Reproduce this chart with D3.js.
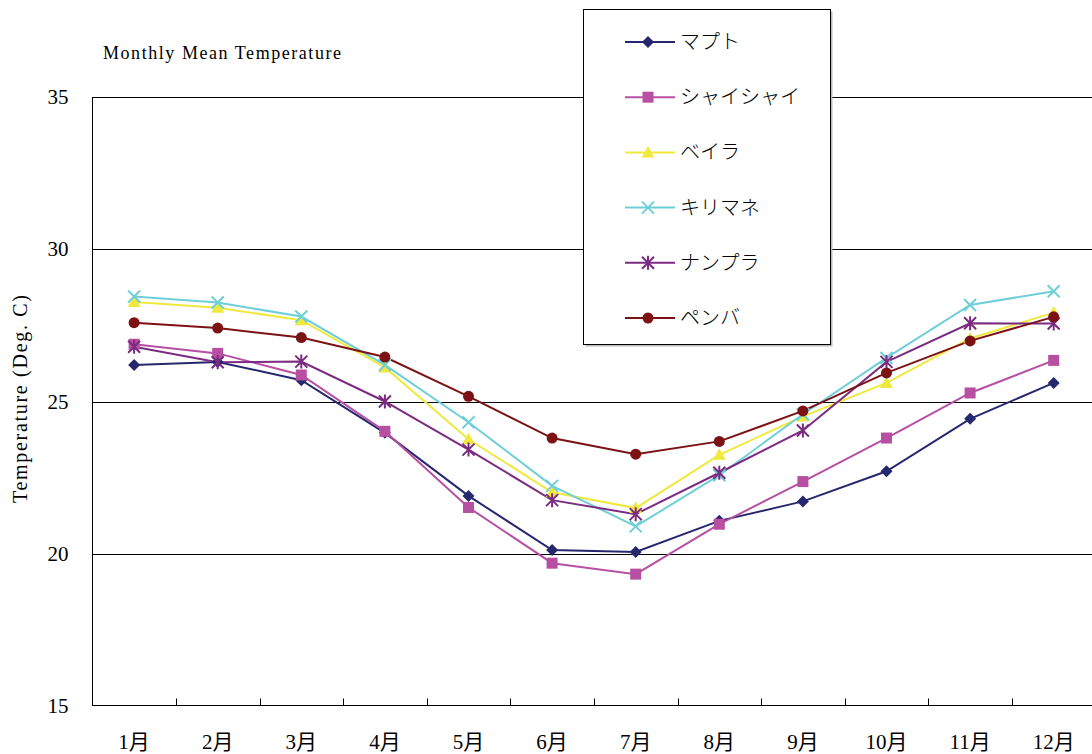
<!DOCTYPE html>
<html>
<head>
<meta charset="utf-8">
<script src="https://cdn.jsdelivr.net/npm/d3@7"></script>
<style>
  html, body { margin: 0; padding: 0; background: #fff; }
  svg { display: block; }
</style>
</head>
<body>
<svg id="chart" width="1092" height="754"></svg>
<script>
// Month labels on the category axis
const months = ["1月","2月","3月","4月","5月","6月","7月","8月","9月","10月","11月","12月"];

// Station names (legend order)
const stations = ["マプト","シャイシャイ","ベイラ","キリマネ","ナンプラ","ペンバ"];

// Monthly mean temperature (°C) per station
const maputo   = [26.2, 26.3, 25.7, 23.97, 21.9, 20.12, 20.06, 21.08, 21.72, 22.71, 24.43, 25.61];
const xaixai   = [26.88, 26.58, 25.87, 24.02, 21.52, 19.69, 19.33, 20.97, 22.37, 23.8, 25.28, 26.35];
const beira    = [28.27, 28.08, 27.67, 26.12, 23.76, 22.02, 21.5, 23.25, 24.51, 25.61, 27.07, 27.92];
const quelimane= [28.45, 28.25, 27.79, 26.2, 24.32, 22.23, 20.9, 22.58, 24.58, 26.43, 28.17, 28.62];
const nampula  = [26.8, 26.29, 26.31, 25.0, 23.42, 21.76, 21.3, 22.66, 24.05, 26.3, 27.57, 27.56];
const pemba    = [27.59, 27.41, 27.1, 26.46, 25.17, 23.8, 23.27, 23.69, 24.69, 25.94, 26.99, 27.78];

// Y-axis ticks
const yTicks = [15, 20, 25, 30, 35];

const seriesValues = [maputo, xaixai, beira, quelimane, nampula, pemba];
const colors  = ["#25276f", "#b74fa3", "#efe93d", "#6fcfd8", "#7b2b80", "#7c1214"];
const markers = ["diamond", "square", "triangle", "cross", "asterisk", "circle"];

const series = stations.map((name, i) => ({
  name, color: colors[i], marker: markers[i],
  values: seriesValues[i].map((v, j) => ({ month: months[j], value: v }))
}));

const svg = d3.select("#chart");
const serif = "'Liberation Serif','Times New Roman','Noto Sans CJK JP',serif";
const jp = "'Noto Sans CJK JP','Liberation Serif',serif";

const plot = { left: 92.3, right: 1095.5, top: 97, bottom: 706 };

const x = d3.scaleBand().domain(months).range([plot.left, plot.right]).padding(0);
const y = d3.scaleLinear().domain([15, 35]).range([plot.bottom, plot.top]);

// marker path generator centred at 0,0
function markerPath(type) {
  switch (type) {
    case "diamond":  return "M0,-6L6,0L0,6L-6,0Z";
    case "square":   return "M-5.5,-5.5H5.5V5.5H-5.5Z";
    case "triangle": return "M0,-6.5L6.5,5L-6.5,5Z";
    case "cross":    return "M-6,-6L6,6M6,-6L-6,6";
    case "asterisk": return "M-6,-6L6,6M6,-6L-6,6M0,-7V7";
    case "circle":   return d3.symbol(d3.symbolCircle, 95)();
  }
}
function isStroke(type) { return type === "cross" || type === "asterisk"; }

// horizontal gridlines
svg.append("g")
  .selectAll("line")
  .data(yTicks.filter(t => t !== 15))
  .join("line")
  .attr("x1", plot.left).attr("x2", 1092)
  .attr("y1", d => Math.round(y(d)) + 0.5).attr("y2", d => Math.round(y(d)) + 0.5)
  .attr("stroke", "#000").attr("stroke-width", 1);

// y axis
const yAxis = svg.append("g")
  .attr("transform", `translate(${Math.round(plot.left) + 0.5},0)`)
  .call(d3.axisLeft(y).tickValues(yTicks).tickSize(0).tickPadding(24));
yAxis.select(".domain").attr("stroke", "#000").attr("d", `M0,${plot.top}V${plot.bottom}`);
yAxis.selectAll("text").attr("font-family", serif).attr("font-size", 21).attr("fill", "#000");

// x axis with inward tick marks between months
const xAxisG = svg.append("g").attr("transform", `translate(0,${Math.round(plot.bottom) - 0.5})`);
xAxisG.append("line")
  .attr("x1", plot.left).attr("x2", 1092).attr("y1", 0).attr("y2", 0)
  .attr("stroke", "#000");
xAxisG.selectAll("line.tick")
  .data(months.slice(1))
  .join("line")
  .attr("class", "tick")
  .attr("x1", d => Math.round(x(d)) + 0.5).attr("x2", d => Math.round(x(d)) + 0.5)
  .attr("y1", 0).attr("y2", -7)
  .attr("stroke", "#000");
xAxisG.selectAll("text")
  .data(months)
  .join("text")
  .attr("x", d => x(d) + x.bandwidth() / 2)
  .attr("y", 43)
  .attr("text-anchor", "middle")
  .attr("font-family", serif).attr("font-size", 21)
  .text(d => d);

// series lines and markers
const line = d3.line().x(d => x(d.month) + x.bandwidth() / 2).y(d => y(d.value));
const gSeries = svg.append("g");
series.forEach(s => {
  gSeries.append("path")
    .datum(s.values)
    .attr("d", line)
    .attr("fill", "none")
    .attr("stroke", s.color)
    .attr("stroke-width", 2);
});
series.forEach(s => {
  gSeries.append("g")
    .selectAll("path")
    .data(s.values)
    .join("path")
    .attr("transform", d => `translate(${x(d.month) + x.bandwidth() / 2},${y(d.value)})`)
    .attr("d", markerPath(s.marker))
    .attr("fill", isStroke(s.marker) ? "none" : s.color)
    .attr("stroke", isStroke(s.marker) ? s.color : "none")
    .attr("stroke-width", 2);
});

// title
svg.append("text")
  .attr("x", 103).attr("y", 59)
  .attr("font-family", serif).attr("font-size", 18)
  .attr("textLength", 238).attr("lengthAdjust", "spacing")
  .text("Monthly Mean Temperature");

// y axis title
svg.append("text")
  .attr("transform", "translate(27,399) rotate(-90)")
  .attr("text-anchor", "middle")
  .attr("font-family", serif).attr("font-size", 20)
  .attr("textLength", 208).attr("lengthAdjust", "spacing")
  .text("Temperature (Deg. C)");

// legend
const legend = svg.append("g");
legend.append("rect")
  .attr("x", 585.5).attr("y", 11.5).attr("width", 247).attr("height", 335)
  .attr("fill", "#bbb");
legend.append("rect")
  .attr("x", 583.5).attr("y", 9.5).attr("width", 247).attr("height", 335)
  .attr("fill", "#fff").attr("stroke", "#000").attr("stroke-width", 1);
const rowY = d3.scalePoint().domain(stations).range([42, 318]);
const items = legend.selectAll("g.item").data(series).join("g")
  .attr("class", "item")
  .attr("transform", d => `translate(0,${rowY(d.name)})`);
items.append("line")
  .attr("x1", 625).attr("x2", 675).attr("y1", 0).attr("y2", 0)
  .attr("stroke", d => d.color).attr("stroke-width", 2);
items.append("path")
  .attr("transform", "translate(648,0)")
  .attr("d", d => markerPath(d.marker))
  .attr("fill", d => isStroke(d.marker) ? "none" : d.color)
  .attr("stroke", d => isStroke(d.marker) ? d.color : "none")
  .attr("stroke-width", 2);
items.append("text")
  .attr("x", 680).attr("y", 7)
  .attr("font-family", jp).attr("font-size", 20).attr("font-weight", 300)
  .text(d => d.name);
</script>
</body>
</html>
